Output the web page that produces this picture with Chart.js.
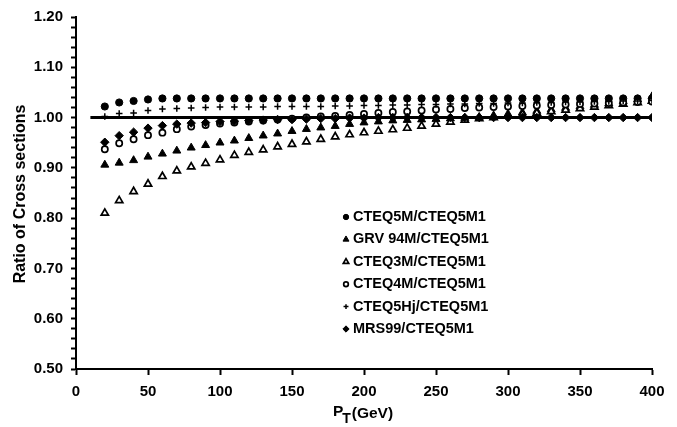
<!DOCTYPE html>
<html>
<head>
<meta charset="utf-8">
<script src="https://cdn.jsdelivr.net/npm/chart.js@4/dist/chart.umd.min.js"></script>
<style>
  body { margin: 0; background: #fff; }
  canvas { display: block; }
</style>
</head>
<body>
<canvas id="ratio-chart" width="677" height="427"></canvas>
<script>
// pT values (GeV)
const ptValues = [20, 30, 40, 50, 60, 70, 80, 90, 100, 110, 120, 130, 140, 150, 160, 170, 180, 190, 200,
    210, 220, 230, 240, 250, 260, 270, 280, 290, 300, 310, 320, 330, 340, 350, 360, 370, 380, 390, 400];

const cteq5m = [1.022, 1.030, 1.033, 1.036, 1.038, 1.038, 1.038, 1.038, 1.038, 1.038, 1.038, 1.038, 1.038,
    1.038, 1.038, 1.038, 1.038, 1.038, 1.038, 1.038, 1.038, 1.038, 1.038, 1.038, 1.038, 1.038, 1.038,
    1.038, 1.038, 1.038, 1.038, 1.038, 1.038, 1.038, 1.038, 1.038, 1.038, 1.038, 1.038];
const grv94m = [0.906, 0.910, 0.915, 0.922, 0.928, 0.934, 0.940, 0.945, 0.950, 0.954, 0.959, 0.964, 0.968,
    0.973, 0.977, 0.980, 0.983, 0.987, 0.990, 0.992, 0.994, 0.995, 0.996, 0.997, 0.998, 0.999, 1.001,
    1.004, 1.007, 1.010, 1.013, 1.016, 1.019, 1.022, 1.025, 1.028, 1.032, 1.036, 1.042];
const cteq3m = [0.810, 0.835, 0.853, 0.868, 0.883, 0.894, 0.902, 0.909, 0.916, 0.925, 0.931, 0.936, 0.942,
    0.947, 0.952, 0.957, 0.962, 0.966, 0.970, 0.973, 0.976, 0.979, 0.983, 0.987, 0.991, 0.995, 0.998,
    1.000, 1.003, 1.006, 1.009, 1.012, 1.015, 1.018, 1.021, 1.024, 1.027, 1.030, 1.033];
const cteq4m = [0.937, 0.949, 0.957, 0.965, 0.970, 0.977, 0.982, 0.985, 0.988, 0.990, 0.992, 0.994, 0.996,
    0.998, 1.000, 1.002, 1.003, 1.005, 1.007, 1.009, 1.011, 1.012, 1.014, 1.016, 1.017, 1.019, 1.020,
    1.021, 1.022, 1.023, 1.024, 1.025, 1.026, 1.027, 1.028, 1.029, 1.030, 1.031, 1.032];
const cteq5hj = [1.002, 1.008, 1.009, 1.014, 1.017, 1.018, 1.019, 1.020, 1.021, 1.021, 1.021, 1.021, 1.022,
    1.022, 1.022, 1.022, 1.023, 1.023, 1.024, 1.024, 1.025, 1.025, 1.026, 1.026, 1.027, 1.027, 1.028,
    1.028, 1.029, 1.029, 1.030, 1.030, 1.031, 1.031, 1.032, 1.032, 1.033, 1.033, 1.034];
const mrs99 = [0.951, 0.964, 0.971, 0.979, 0.984, 0.987, 0.989, 0.990, 0.992, 0.993, 0.994, 0.995, 0.996,
    0.996, 0.997, 0.998, 0.998, 0.999, 0.999, 1.000, 1.000, 1.000, 1.000, 1.000, 1.000, 1.000, 1.000,
    1.000, 1.000, 1.000, 1.000, 1.000, 1.000, 1.000, 1.000, 1.000, 1.000, 1.000, 1.000];

const seriesNames = ['CTEQ5M/CTEQ5M1', 'GRV 94M/CTEQ5M1', 'CTEQ3M/CTEQ5M1', 'CTEQ4M/CTEQ5M1', 'CTEQ5Hj/CTEQ5M1', 'MRS99/CTEQ5M1'];
const refLineX = [10, 400];
const refLineY = [1.0, 1.0];

const yTickLabels = ['0.50', '0.60', '0.70', '0.80', '0.90', '1.00', '1.10', '1.20'];

const FONT = '"Liberation Sans", Arial, sans-serif';

function toPoints(ys) {
    return ptValues.map((x, i) => ({ x: x, y: ys[i] }));
}

const markerStyles = [
    { pointStyle: 'circle', radius: 3.6, fill: '#000', borderWidth: 1 },
    { pointStyle: 'triangle', radius: 4.6, fill: '#000', borderWidth: 1 },
    { pointStyle: 'triangle', radius: 4.2, fill: '#fff', borderWidth: 1.7 },
    { pointStyle: 'circle', radius: 3.1, fill: '#fff', borderWidth: 1.7 },
    { pointStyle: 'cross', radius: 3.3, fill: '#000', borderWidth: 1.5 },
    { pointStyle: 'rectRot', radius: 4.2, fill: '#000', borderWidth: 1 }
];

const seriesData = [cteq5m, grv94m, cteq3m, cteq4m, cteq5hj, mrs99];

const datasets = seriesData.map((ys, i) => ({
    label: seriesNames[i],
    data: toPoints(ys),
    pointStyle: markerStyles[i].pointStyle,
    pointRadius: markerStyles[i].radius,
    pointBackgroundColor: markerStyles[i].fill,
    pointBorderColor: '#000',
    pointBorderWidth: markerStyles[i].borderWidth,
    showLine: false,
    order: 6 - i
}));

datasets.push({
    type: 'line',
    label: 'ref',
    data: refLineX.map((x, i) => ({ x: x, y: refLineY[i] })),
    borderColor: '#000',
    borderWidth: 3,
    pointRadius: 0,
    fill: false,
    order: 20
});

const overlayPlugin = {
    id: 'overlay',
    afterDraw(chart) {
        const ctx = chart.ctx;
        const area = chart.chartArea;
        ctx.save();
        ctx.fillStyle = '#000';

        // y axis title
        ctx.save();
        ctx.translate(21, (area.top + area.bottom) / 2 + 1);
        ctx.rotate(-Math.PI / 2);
        ctx.font = 'bold 16px ' + FONT;
        ctx.textAlign = 'center';
        ctx.textBaseline = 'middle';
        ctx.fillText('Ratio of Cross sections', 0, 0);
        ctx.restore();

        // x axis title: P_T(GeV)
        const cx = 363, cy = 415;
        ctx.font = 'bold 15.5px ' + FONT;
        ctx.textBaseline = 'middle';
        ctx.textAlign = 'left';
        const wP = ctx.measureText('P').width;
        ctx.font = 'bold 14px ' + FONT;
        const wT = ctx.measureText('T').width;
        ctx.font = 'bold 15.5px ' + FONT;
        const wRest = ctx.measureText('(GeV)').width;
        let x0 = cx - (wP + wT + wRest) / 2;
        ctx.fillText('P', x0, cy - 3);
        ctx.font = 'bold 14px ' + FONT;
        ctx.fillText('T', x0 + wP - 1, cy + 4);
        ctx.font = 'bold 15.5px ' + FONT;
        ctx.fillText('(GeV)', x0 + wP + wT, cy - 1);

        // legend inside plot
        const lx = 346, ly0 = 217, step = 22.4;
        ctx.font = 'bold 14.5px ' + FONT;
        seriesNames.forEach((name, i) => {
            const y = ly0 + i * step;
            const m = markerStyles[i];
            ctx.fillStyle = m.fill;
            ctx.strokeStyle = '#000';
            ctx.lineWidth = m.borderWidth;
            Chart.helpers.drawPoint(ctx, {
                pointStyle: m.pointStyle,
                radius: m.radius * 0.75,
                rotation: 0,
                borderWidth: m.borderWidth
            }, lx, y);
            ctx.fillStyle = '#000';
            ctx.textAlign = 'left';
            ctx.textBaseline = 'middle';
            ctx.fillText(name, lx + 7, y);
        });
        ctx.restore();
    }
};

const ctx = document.getElementById('ratio-chart').getContext('2d');

const ratioChart = new Chart(ctx, {
    type: 'scatter',
    data: { datasets: datasets },
    options: {
        responsive: false,
        animation: false,
        layout: { padding: { top: 13, right: 25, left: 0, bottom: 0 } },
        plugins: {
            legend: { display: false },
            tooltip: { enabled: false }
        },
        scales: {
            x: {
                type: 'linear',
                min: 0,
                max: 400,
                afterFit: scale => { scale.height = 58; },
                ticks: {
                    stepSize: 50,
                    color: '#000',
                    padding: 8,
                    maxRotation: 0,
                    font: { family: FONT, size: 15, weight: 'bold' }
                },
                grid: {
                    drawOnChartArea: false,
                    drawTicks: true,
                    tickLength: 6,
                    tickColor: '#000',
                    tickWidth: 2
                },
                border: { display: true, color: '#000', width: 2 }
            },
            y: {
                type: 'linear',
                min: 0.5,
                max: 1.2,
                afterFit: scale => { scale.width = 76; },
                afterBuildTicks: scale => {
                    const ticks = [];
                    for (let i = 0; i <= 35; i++) {
                        ticks.push({ value: Math.round((0.5 + i * 0.02) * 100) / 100 });
                    }
                    scale.ticks = ticks;
                },
                ticks: {
                    color: '#000',
                    padding: 8,
                    autoSkip: false,
                    font: { family: FONT, size: 15, weight: 'bold' },
                    callback: function(value) {
                        const label = Number(value).toFixed(2);
                        return yTickLabels.includes(label) ? label : '';
                    }
                },
                grid: {
                    drawOnChartArea: false,
                    drawTicks: true,
                    tickLength: 5,
                    tickColor: '#000',
                    tickWidth: 2
                },
                border: { display: true, color: '#000', width: 2 }
            }
        }
    },
    plugins: [overlayPlugin]
});
</script>
</body>
</html>
